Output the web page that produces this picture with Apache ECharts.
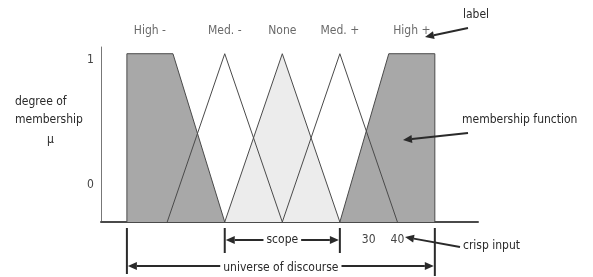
<!DOCTYPE html>
<html>
<head>
<meta charset="utf-8">
<script src="https://cdn.jsdelivr.net/npm/echarts@6/dist/echarts.min.js"></script>
<style>
  html, body { margin: 0; padding: 0; background: #fff; }
  #chart { width: 593px; height: 277px; }
</style>
</head>
<body>
<div id="chart"></div>
<script>
// membership functions, [x, degree]
const highNeg = [[-54, 0], [-54, 1], [-38, 1], [-20, 0]]
const medNeg = [[-40, 0], [-20, 1], [0, 0]]
const none = [[-20, 0], [0, 1], [20, 0]]
const medPos = [[0, 0], [20, 1], [40, 0]]
const highPos = [[20, 0], [37, 1], [53, 1], [53, 0]]

const setNames = ['High -', 'Med. -', 'None', 'Med. +', 'High +']
const setLabelAt = [[-46, 1], [-20, 1], [0, 1], [20, 1], [45, 1]]
const crispTicks = [30, 40]
const scope = [-20, 20]
const universe = [-54, 53]

const FONT = "'Liberation Sans Narrow', 'DejaVu Sans Condensed', 'Liberation Sans', sans-serif"
const INK = '#2a2a2a'

const chart = echarts.init(document.getElementById('chart'))

function shape(name, data, fill) {
  return {
    name,
    type: 'line',
    data,
    symbol: 'none',
    silent: true,
    lineStyle: { color: '#4a4a4a', width: 1 },
    areaStyle: fill ? { color: fill, opacity: 1 } : undefined,
  }
}

function arrow(x1, y1, x2, y2) {
  const a = Math.atan2(y2 - y1, x2 - x1)
  const L = 9
  const W = 4
  const bx = x2 - L * Math.cos(a)
  const by = y2 - L * Math.sin(a)
  return [
    { type: 'line', z: 100, shape: { x1, y1, x2: bx, y2: by }, style: { stroke: INK, lineWidth: 2 } },
    {
      type: 'polygon',
      z: 100,
      shape: {
        points: [
          [x2, y2],
          [bx - W * Math.sin(a), by + W * Math.cos(a)],
          [bx + W * Math.sin(a), by - W * Math.cos(a)],
        ],
      },
      style: { fill: INK },
    },
  ]
}

function text(str, x, y, opts = {}) {
  return {
    type: 'text',
    x,
    y,
    z: 101,
    style: {
      text: str,
      fill: opts.color || INK,
      font: (opts.weight || 'normal') + ' ' + (opts.size || 12) + 'px ' + FONT,
      align: opts.align || 'left',
      verticalAlign: 'middle',
      backgroundColor: opts.bg,
      padding: opts.bg ? [0, 3] : 0,
    },
  }
}

chart.setOption({
  animation: false,
  backgroundColor: '#fff',
  grid: { left: 101, right: 115, top: 47, bottom: 55 },
  xAxis: {
    type: 'value',
    min: -63,
    max: 68,
    axisLine: { show: true, lineStyle: { color: '#4a4a4a', width: 2 } },
    axisTick: { show: false },
    splitLine: { show: false },
    axisLabel: {
      customValues: crispTicks,
      color: '#444',
      fontSize: 12,
      fontFamily: FONT,
      margin: 12,
    },
  },
  yAxis: {
    type: 'value',
    min: 0,
    max: 1.04,
    axisLine: { show: true, onZero: false, lineStyle: { color: '#777', width: 1 } },
    axisTick: { show: false },
    axisLabel: { show: false },
    splitLine: { show: false },
  },
  series: [
    shape('High -', highNeg, '#a8a8a8'),
    shape('High +', highPos, '#a8a8a8'),
    shape('None', none, '#ececec'),
    shape('Med. -', medNeg),
    shape('Med. +', medPos),
    {
      type: 'scatter',
      data: setLabelAt,
      symbolSize: 0,
      silent: true,
      label: {
        show: true,
        position: 'top',
        distance: 17,
        color: '#444',
        fontSize: 12,
        fontFamily: FONT,
        formatter: p => setNames[p.dataIndex],
      },
    },
  ],
})

// annotations, placed from the x scale where they refer to data
const px = v => chart.convertToPixel({ xAxisIndex: 0 }, v)
const s0 = px(scope[0])
const s1 = px(scope[1])
const u0 = px(universe[0])
const u1 = px(universe[1])
const sMid = (s0 + s1) / 2
const uMid = (u0 + u1) / 2

const tick = (x, y1, y2) => ({ type: 'line', z: 100, shape: { x1: x, y1, x2: x, y2 }, style: { stroke: INK, lineWidth: 2 } })

chart.setOption({
  graphic: [
    text('1', 87, 60, { color: '#444' }),
    text('0', 87, 185, { color: '#444' }),
    text('degree of', 15, 102),
    text('membership', 15, 120),
    text('μ', 47, 140),
    text('label', 476, 15, { align: 'center' }),
    ...arrow(468, 28, 425, 37),
    text('membership function', 462, 120),
    ...arrow(468, 133, 403, 140),
    text('crisp input', 463, 246),
    ...arrow(460, 247, 405, 237),
    tick(s0, 228, 253),
    tick(s1, 228, 253),
    ...arrow(sMid, 240, s0 + 1, 240),
    ...arrow(sMid, 240, s1 - 1, 240),
    text('scope', sMid, 240, { align: 'center', bg: '#fff' }),
    tick(u0, 228, 274),
    tick(u1, 228, 276),
    ...arrow(uMid, 266, u0 + 1, 266),
    ...arrow(uMid, 266, u1 - 1, 266),
    text('universe of discourse', uMid, 268, { align: 'center', bg: '#fff' }),
  ],
})

window.addEventListener('resize', () => chart.resize())
</script>
</body>
</html>
